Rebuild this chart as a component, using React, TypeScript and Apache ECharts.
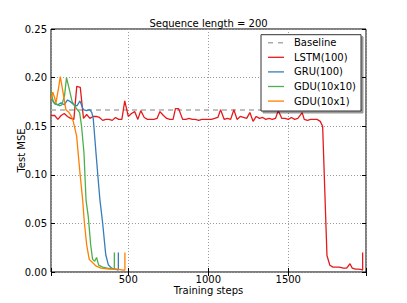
import React, { useEffect, useRef } from "react";
import * as echarts from "echarts";

const TITLE = "Sequence length = 200";
const X_NAME = "Training steps";
const Y_NAME = "Test MSE";
const X_MIN = 17;
const X_MAX = 1986;
const X_TICKS = [500, 1000, 1500];
const BASELINE = 0.1667;

const lstm: [number, number][] = [
  [17, 0.161], [40, 0.161], [60, 0.157], [80, 0.161], [100, 0.163], [120, 0.16],
  [140, 0.158], [160, 0.157], [178, 0.191], [200, 0.19], [220, 0.158], [240, 0.162],
  [260, 0.158], [280, 0.16], [300, 0.16], [320, 0.159], [340, 0.156], [360, 0.157],
  [380, 0.157], [400, 0.156], [420, 0.159], [440, 0.157], [460, 0.157], [478, 0.176],
  [500, 0.16], [520, 0.163], [540, 0.165], [560, 0.157], [578, 0.166], [600, 0.159],
  [620, 0.157], [640, 0.157], [660, 0.157], [680, 0.158], [698, 0.165], [720, 0.161],
  [740, 0.158], [760, 0.157], [780, 0.157], [795, 0.168], [815, 0.168], [840, 0.157],
  [860, 0.157], [880, 0.158], [900, 0.157], [920, 0.157], [940, 0.156], [960, 0.157],
  [980, 0.157], [1000, 0.157], [1020, 0.157], [1040, 0.158], [1060, 0.159], [1077, 0.167],
  [1100, 0.157], [1120, 0.158], [1140, 0.157], [1160, 0.167], [1180, 0.157], [1200, 0.16],
  [1220, 0.159], [1240, 0.158], [1260, 0.164], [1280, 0.155], [1300, 0.16], [1320, 0.158],
  [1340, 0.159], [1360, 0.157], [1380, 0.158], [1400, 0.157], [1420, 0.158], [1438, 0.166],
  [1460, 0.158], [1480, 0.158], [1500, 0.157], [1520, 0.159], [1540, 0.157], [1560, 0.158],
  [1587, 0.164], [1600, 0.157], [1620, 0.156], [1640, 0.157], [1660, 0.157], [1680, 0.157],
  [1700, 0.155], [1715, 0.15], [1742, 0.017], [1760, 0.007], [1780, 0.005], [1800, 0.005],
  [1820, 0.005], [1844, 0.004], [1865, 0.004], [1886, 0.0085], [1900, 0.004], [1920, 0.003],
  [1940, 0.003], [1960, 0.0024], [1965, 0.002], [1965, 0.02],
];

const gru: [number, number][] = [
  [17, 0.182], [30, 0.176], [40, 0.173], [60, 0.172], [80, 0.174], [100, 0.172],
  [120, 0.177], [140, 0.175], [160, 0.172], [180, 0.171], [198, 0.176], [219, 0.167],
  [240, 0.166], [260, 0.167], [272, 0.164], [281, 0.158], [298, 0.123], [312, 0.095],
  [323, 0.074], [340, 0.05], [359, 0.018], [375, 0.0075], [396, 0.004], [420, 0.003],
  [438, 0.002], [438, 0.02],
];

const gdu10x10: [number, number][] = [
  [17, 0.186], [30, 0.175], [50, 0.173], [70, 0.171], [85, 0.172], [102, 0.182],
  [114, 0.2], [134, 0.186], [148, 0.176], [167, 0.17], [196, 0.164], [208, 0.15],
  [223, 0.123], [236, 0.074], [250, 0.057], [265, 0.028], [277, 0.013], [290, 0.011],
  [302, 0.015], [315, 0.007], [340, 0.005], [370, 0.004], [413, 0.003], [413, 0.02],
];

const gdu10x1: [number, number][] = [
  [17, 0.178], [28, 0.185], [38, 0.18], [48, 0.174], [62, 0.187], [75, 0.201],
  [92, 0.185], [110, 0.167], [130, 0.164], [145, 0.16], [156, 0.155], [177, 0.14],
  [198, 0.102], [215, 0.074], [225, 0.052], [240, 0.028], [256, 0.013], [281, 0.009],
  [300, 0.006], [330, 0.004], [380, 0.003], [430, 0.003], [470, 0.002], [479, 0.002],
  [479, 0.02],
];

const SERIES_NAMES = ["Baseline", "LSTM(100)", "GRU(100)", "GDU(10x10)", "GDU(10x1)"];
const COLORS = ["#acacac", "#e41a1c", "#377eb8", "#4daf4a", "#ff7f00"];

const FONT = "DejaVu Sans";

export default function App() {
  const ref = useRef<HTMLDivElement>(null);
  useEffect(() => {
    if (!ref.current) return;
    const chart = echarts.init(ref.current, undefined, { renderer: "svg" });
    const baselineData: [number, number][] = [
      [X_MIN, BASELINE],
      [X_MAX, BASELINE],
    ];
    const datasets = [baselineData, lstm, gru, gdu10x10, gdu10x1];
    const gridLine = { show: true, lineStyle: { color: "#999", type: [1, 2], width: 1 } };
    const xCommon = {
      type: "value",
      min: X_MIN,
      max: X_MAX,
      splitNumber: 4,
      axisTick: { show: true, inside: true, length: 4, lineStyle: { color: "#000" } },
      axisLine: { show: false },
    };
    const yCommon = {
      type: "value",
      min: 0,
      max: 0.25,
      interval: 0.05,
      axisTick: { show: true, inside: true, length: 4, lineStyle: { color: "#000" } },
      axisLine: { show: false },
    };

    // legend drawn as graphic elements
    const LX = 261;
    const LY = 34.7;
    const LW = 100;
    const LH = 76.3;
    const rowY0 = 42.7;
    const rowStep = 14.6;
    const legendChildren: any[] = [
      {
        type: "rect",
        shape: { x: LX, y: LY, width: LW, height: LH },
        style: {
          fill: "#fff",
          stroke: "#333",
          lineWidth: 1,
          shadowColor: "rgba(0,0,0,0.4)",
          shadowOffsetX: 2,
          shadowOffsetY: 2,
          shadowBlur: 0,
        },
        z: 100,
      },
    ];
    SERIES_NAMES.forEach((name, i) => {
      const y = rowY0 + i * rowStep;
      legendChildren.push({
        type: "line",
        shape: { x1: 268, y1: y, x2: 284, y2: y },
        style: {
          stroke: COLORS[i],
          lineWidth: i === 0 ? 1.5 : 1.3,
          lineDash: i === 0 ? [5, 5] : null,
        },
        z: 101,
      });
      legendChildren.push({
        type: "text",
        x: 294,
        y: y,
        style: {
          text: name,
          fontFamily: FONT,
          fontSize: 10,
          fill: "#000",
          align: "left",
          verticalAlign: "middle",
        },
        z: 101,
      });
    });

    chart.setOption({
      animation: false,
      backgroundColor: "#fff",
      textStyle: { fontFamily: FONT },
      grid: {
        left: 51,
        top: 29,
        width: 315,
        height: 243,
        show: true,
        borderColor: "#000",
        borderWidth: 1,
        backgroundColor: "transparent",
      },
      xAxis: [
        {
          ...xCommon,
          position: "bottom",
          name: X_NAME,
          nameLocation: "middle",
          nameGap: 13,
          nameMoveOverlap: false,
          nameTextStyle: { fontFamily: FONT, fontSize: 10, color: "#000" },
          axisLabel: {
            fontFamily: FONT,
            fontSize: 10,
            color: "#000",
            margin: 2,
            formatter: (v: number) => (X_TICKS.includes(v) ? String(v) : ""),
          },
          splitLine: gridLine,
        },
        {
          ...xCommon,
          position: "top",
          axisLabel: { show: false },
          splitLine: { show: false },
        },
      ],
      yAxis: [
        {
          ...yCommon,
          position: "left",
          name: Y_NAME,
          nameLocation: "middle",
          nameGap: 24.5,
          nameMoveOverlap: false,
          nameTextStyle: { fontFamily: FONT, fontSize: 10, color: "#000" },
          axisLabel: {
            fontFamily: FONT,
            fontSize: 10,
            color: "#000",
            margin: 4,
            formatter: (v: number) => v.toFixed(2),
          },
          splitLine: gridLine,
        },
        {
          ...yCommon,
          position: "right",
          axisLabel: { show: false },
          splitLine: { show: false },
        },
      ],
      graphic: [
        {
          type: "text",
          x: 208.5,
          y: 23.5,
          style: {
            text: TITLE,
            fontFamily: FONT,
            fontSize: 10,
            fill: "#000",
            align: "center",
            verticalAlign: "middle",
          },
        },
        { type: "group", children: legendChildren },
      ],
      series: datasets.map((d, i) => ({
        type: "line",
        name: SERIES_NAMES[i],
        data: d,
        xAxisIndex: 0,
        yAxisIndex: 0,
        symbol: "none",
        showSymbol: false,
        clip: true,
        color: COLORS[i],
        lineStyle: {
          color: COLORS[i],
          width: i === 0 ? 1.5 : 1.3,
          type: i === 0 ? [5, 4] : "solid",
        },
        z: 2 + i,
      })),
    });
    return () => chart.dispose();
  }, []);
  return (
    <div
      ref={ref}
      style={{ position: "fixed", left: 0, top: 0, width: 407, height: 303 }}
    />
  );
}
